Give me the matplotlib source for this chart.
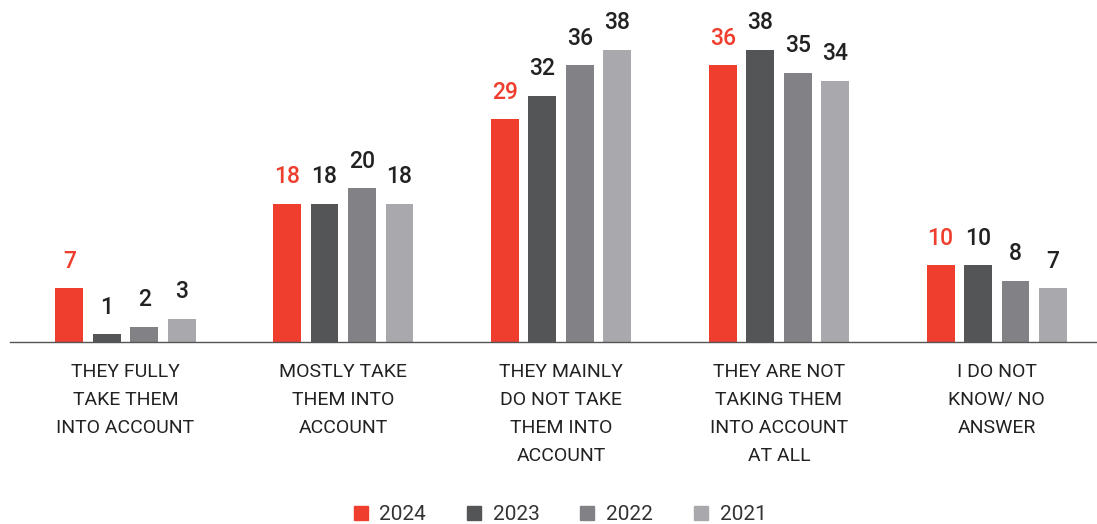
import matplotlib.pyplot as plt
import matplotlib.lines as mlines
import numpy as np

categories = [
    "THEY FULLY\nTAKE THEM\nINTO ACCOUNT",
    "MOSTLY TAKE\nTHEM INTO\nACCOUNT",
    "THEY MAINLY\nDO NOT TAKE\nTHEM INTO\nACCOUNT",
    "THEY ARE NOT\nTAKING THEM\nINTO ACCOUNT\nAT ALL",
    "I DO NOT\nKNOW/ NO\nANSWER",
]
years = ["2024", "2023", "2022", "2021"]
values_2024 = [7, 18, 29, 36, 10]
values_2023 = [1, 18, 32, 38, 10]
values_2022 = [2, 20, 36, 35, 8]
values_2021 = [3, 18, 38, 34, 7]

colors = ["#EF3E2E", "#545557", "#828286", "#A9A9AD"]
label_colors = ["#EF3E2E", "#222222", "#222222", "#222222"]

plt.rcParams["font.family"] = ["Roboto", "DejaVu Sans"]

fig = plt.figure(figsize=(10.97, 5.24), dpi=100)
ax = fig.add_axes([10 / 1097, 182 / 524, 1087 / 1097, 342 / 524])

x = np.arange(len(categories))
width = 0.128
step = 0.172
series = [values_2024, values_2023, values_2022, values_2021]

for i, vals in enumerate(series):
    pos = x + (i - 1.5) * step
    ax.bar(pos, vals, width=width, color=colors[i], zorder=2)
    for p, v in zip(pos, vals):
        ax.annotate(str(v), (p, v), xytext=(0, 19.5), textcoords="offset points",
                    ha="center", va="center", fontsize=16.5, fontweight="medium",
                    color=label_colors[i])

for xi, cat in zip(x, categories):
    ax.text(xi, -2.7, cat, ha="center", va="top", fontsize=14, color="#222222",
            linespacing=1.72)

ax.set_xlim(-0.53, 4.46)
ax.set_ylim(0, 44.5)
for side in ["top", "right", "left"]:
    ax.spines[side].set_visible(False)
ax.spines["bottom"].set_color("#555555")
ax.spines["bottom"].set_linewidth(1.0)
ax.set_xticks([])
ax.set_yticks([])

handles = [mlines.Line2D([], [], color=c, marker="s", linestyle="none", markersize=10, label=y)
           for c, y in zip(colors, years)]
fig.legend(handles=handles, loc="center", bbox_to_anchor=(0.509, 0.018), ncol=4,
           frameon=False, fontsize=15, handletextpad=0.4, columnspacing=1.8,
           handlelength=1.0, labelcolor="#333333")

fig.savefig("out.png", dpi=100)
